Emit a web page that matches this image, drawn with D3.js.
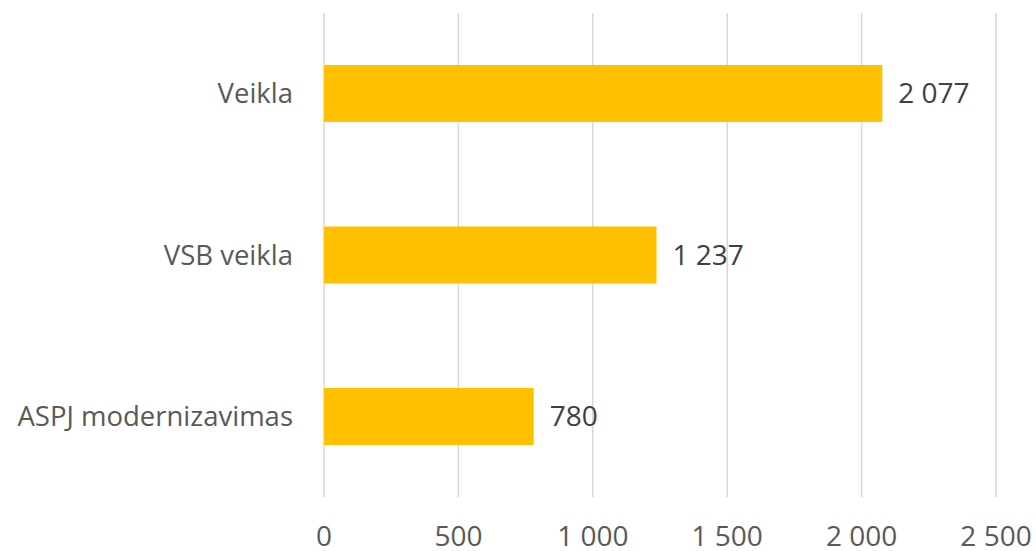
<!DOCTYPE html>
<html>
<head>
<meta charset="utf-8">
<script src="https://cdn.jsdelivr.net/npm/d3@7"></script>
<style>
    body { margin: 0; background: #fff; }
    text { font-family: "Open Sans", sans-serif; fill: #595959; }
</style>
</head>
<body>
<div id="chart"></div>
<script>
const width = 1036;
const height = 551;
const margins = ({
    top: 13,
    right: 40,
    bottom: 54,
    left: 324
})

const categories = ["Veikla", "VSB veikla", "ASPJ modernizavimas"]
const values = [2077, 1237, 780]
const tickValues = [0, 500, 1000, 1500, 2000, 2500]

const locale = d3.formatLocale({decimal: ",", thousands: "\u00a0", grouping: [3], currency: ["", " €"]})
const fmt = locale.format(",d")

const svg = d3.select("#chart")
    .append("svg")
    .attr("width", width)
    .attr("height", height)

const x = d3.scaleLinear()
    .domain([0, 2500])
    .range([margins.left, 996])

const y = d3.scaleBand()
    .domain(categories)
    .range([margins.top, 497])
    .paddingInner(0.647)
    .paddingOuter(0.322)

// gridlines
svg.append("g")
    .selectAll("line")
    .data(tickValues)
    .join("line")
    .attr("x1", d => x(d))
    .attr("x2", d => x(d))
    .attr("y1", margins.top)
    .attr("y2", 497)
    .style("stroke", "#d9d9d9")
    .style("stroke-width", 1.5)

// x tick labels
svg.append("g")
    .selectAll("text")
    .data(tickValues)
    .join("text")
    .text(d => fmt(d))
    .attr("x", d => x(d))
    .attr("y", 536)
    .attr("dy", "0.35em")
    .attr("text-anchor", "middle")
    .style("font-size", "28px")

// bars
svg.append("g")
    .selectAll("rect")
    .data(values)
    .join("rect")
    .attr("x", x(0))
    .attr("y", (d, i) => y(categories[i]))
    .attr("width", d => x(d) - x(0))
    .attr("height", y.bandwidth())
    .style("fill", "#ffc000")

// category labels
svg.append("g")
    .selectAll("text")
    .data(categories)
    .join("text")
    .text(d => d)
    .attr("x", margins.left - 31)
    .attr("y", d => y(d) + y.bandwidth() / 2)
    .attr("dy", "0.35em")
    .attr("text-anchor", "end")
    .style("font-size", "27.5px")

// value labels
svg.append("g")
    .selectAll("text")
    .data(values)
    .join("text")
    .text(d => fmt(d))
    .attr("x", d => x(d) + 16)
    .attr("y", (d, i) => y(categories[i]) + y.bandwidth() / 2)
    .attr("dy", "0.35em")
    .style("font-size", "28px")
    .style("fill", "#404040")
</script>
</body>
</html>
